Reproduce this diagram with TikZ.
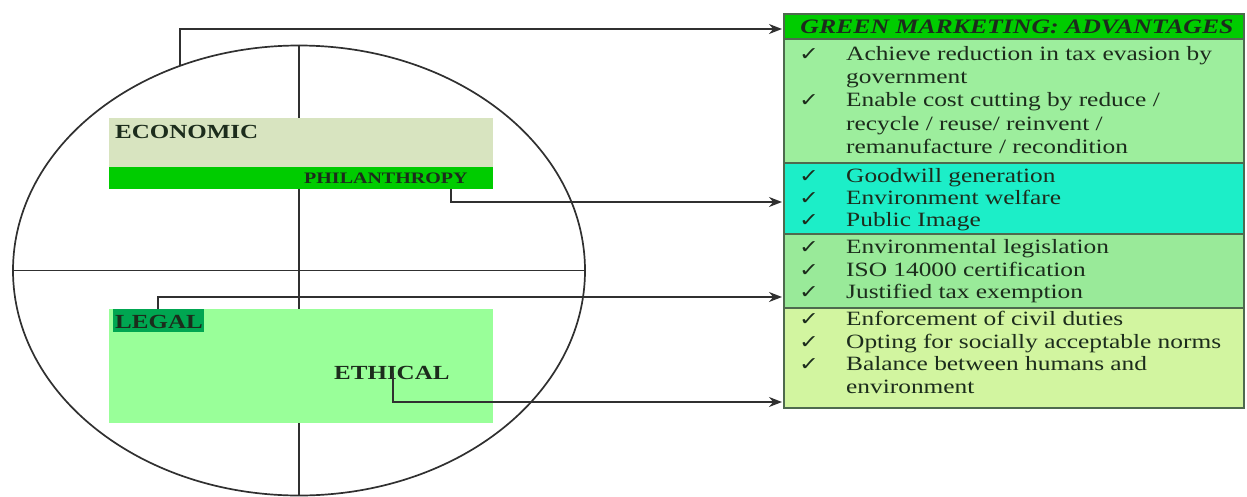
\documentclass[tikz,border=0pt]{standalone}
\usepackage{fontspec}
\usepackage{graphicx}
\setmainfont{Liberation Serif}
\newfontfamily\djv{DejaVu Sans}
\usetikzlibrary{arrows.meta,shapes.geometric}
\definecolor{econfill}{HTML}{D8E4C0}
\definecolor{brightgreen}{HTML}{00CC00}
\definecolor{legalfill}{HTML}{99FF99}
\definecolor{legaltag}{HTML}{00A651}
\definecolor{secA}{HTML}{9DEE9D}
\definecolor{secB}{HTML}{1CEEC8}
\definecolor{secC}{HTML}{99EA99}
\definecolor{secD}{HTML}{D2F5A0}
\definecolor{ink}{HTML}{1C2C1C}
\definecolor{rule}{HTML}{4E6A4E}
\definecolor{linegray}{HTML}{303030}
\newcommand{\hstretch}[1]{\scalebox{1.25}[1]{#1}}
\tikzset{
  area/.style={anchor=north west, inner sep=0pt, outer sep=0pt},
  panel/.style={area, draw=rule, line width=1.2pt, minimum width=460pt},
  txt/.style={anchor=base west, inner sep=0pt, text=ink, font=\fontsize{20.3}{24}\selectfont},
  lbl/.style={anchor=base west, inner sep=0pt, text=ink, font=\bfseries\fontsize{20}{24}\selectfont},
  chk/.style={anchor=base west, inner sep=0pt, text=ink, font=\djv\fontsize{19}{20}\selectfont},
  thin/.style={line width=1.7pt, draw=linegray},
  conn/.style={line width=1.7pt, draw=linegray, -{Stealth[length=13pt,width=10pt]}}
}
\begin{document}
\begin{tikzpicture}[x=1pt,y=-1pt]
\useasboundingbox (0,0) rectangle (1247,496);
% ---- left: oval with quadrants
\node[draw=linegray, line width=1.7pt, ellipse, minimum width=572pt, minimum height=450pt, inner sep=0pt] (oval) at (299,270.5) {};
\node[area, fill=econfill, minimum width=384pt, minimum height=49pt] (econ) at (109,118) {};
\node[area, fill=brightgreen, minimum width=384pt, minimum height=22pt] (phil) at (109,167) {};
\node[area, fill=legalfill, minimum width=384pt, minimum height=114pt] (legal) at (109,309) {};
\node[area, fill=legaltag, minimum width=91pt, minimum height=23pt] (ltag) at (113,309) {};
\draw[thin] (oval.west) -- (oval.east);
\draw[thin] (oval.north) -- (oval.north |- econ.north);
\draw[thin] (oval.north |- phil.south) -- (oval.north |- legal.north);
\draw[thin] (oval.south |- legal.south) -- (oval.south);
\node[lbl] (teco) at (115,138) {\hstretch{ECONOMIC}};
\node[lbl, font=\bfseries\fontsize{16}{18}\selectfont] (tphil) at (304,183) {\hstretch{PHILANTHROPY}};
\node[lbl] (tlegal) at (115,328) {\hstretch{LEGAL}};
\node[lbl] (teth) at (334,379) {\hstretch{ETHICAL}};
% ---- right: panel
\node[panel, fill=brightgreen, minimum height=25pt] (title) at (784,14) {};
\node[panel, fill=secA, minimum height=124pt] (sA) at (784,39) {};
\node[panel, fill=secB, minimum height=71pt] (sB) at (784,163) {};
\node[panel, fill=secC, minimum height=74pt] (sC) at (784,234) {};
\node[panel, fill=secD, minimum height=100pt] (sD) at (784,308) {};
\node[anchor=base, inner sep=0pt, text=ink, font=\bfseries\itshape\fontsize{20.6}{24}\selectfont] (ttl) at (1017,33) {\hstretch{GREEN MARKETING: ADVANTAGES}};
% section A
\node[chk] (c1) at (799,60) {\hstretch{✓}};
\node[txt] (l1) at (846,60) {\hstretch{Achieve reduction in tax evasion by}};
\node[txt] (l2) at (846,83) {\hstretch{government}};
\node[chk] (c2) at (799,106) {\hstretch{✓}};
\node[txt] (l3) at (846,106) {\hstretch{Enable cost cutting by reduce /}};
\node[txt] (l4) at (846,130) {\hstretch{recycle / reuse/ reinvent /}};
\node[txt] (l5) at (846,153) {\hstretch{remanufacture / recondition}};
% section B
\node[chk] (c3) at (799,182) {\hstretch{✓}};
\node[txt] (l6) at (846,182) {\hstretch{Goodwill generation}};
\node[chk] (c4) at (799,204) {\hstretch{✓}};
\node[txt] (l7) at (846,204) {\hstretch{Environment welfare}};
\node[chk] (c5) at (799,226) {\hstretch{✓}};
\node[txt] (l8) at (846,226) {\hstretch{Public Image}};
% section C
\node[chk] (c6) at (799,253) {\hstretch{✓}};
\node[txt] (l9) at (846,253) {\hstretch{Environmental legislation}};
\node[chk] (c7) at (799,276) {\hstretch{✓}};
\node[txt] (l10) at (846,276) {\hstretch{ISO 14000 certification}};
\node[chk] (c8) at (799,298) {\hstretch{✓}};
\node[txt] (l11) at (846,298) {\hstretch{Justified tax exemption}};
% section D
\node[chk] (c9) at (799,325) {\hstretch{✓}};
\node[txt] (l12) at (846,325) {\hstretch{Enforcement of civil duties}};
\node[chk] (c10) at (799,348) {\hstretch{✓}};
\node[txt] (l13) at (846,348) {\hstretch{Opting for socially acceptable norms}};
\node[chk] (c11) at (799,370) {\hstretch{✓}};
\node[txt] (l14) at (846,370) {\hstretch{Balance between humans and}};
\node[txt] (l15) at (846,393) {\hstretch{environment}};
% ---- connectors
\coordinate (s1) at (oval.120.2);
\coordinate (e1) at (782,29);
\coordinate (s2) at (451,189);
\coordinate (e2) at (782,202);
\coordinate (s3) at (158,309);
\coordinate (e3) at (782,297);
\coordinate (s4) at (393,373);
\coordinate (e4) at (782,402);
\draw[conn] (s1) |- (e1);
\draw[conn] (s2) |- (e2);
\draw[conn] (s3) |- (e3);
\draw[conn] (s4) |- (e4);
\end{tikzpicture}
\end{document}
